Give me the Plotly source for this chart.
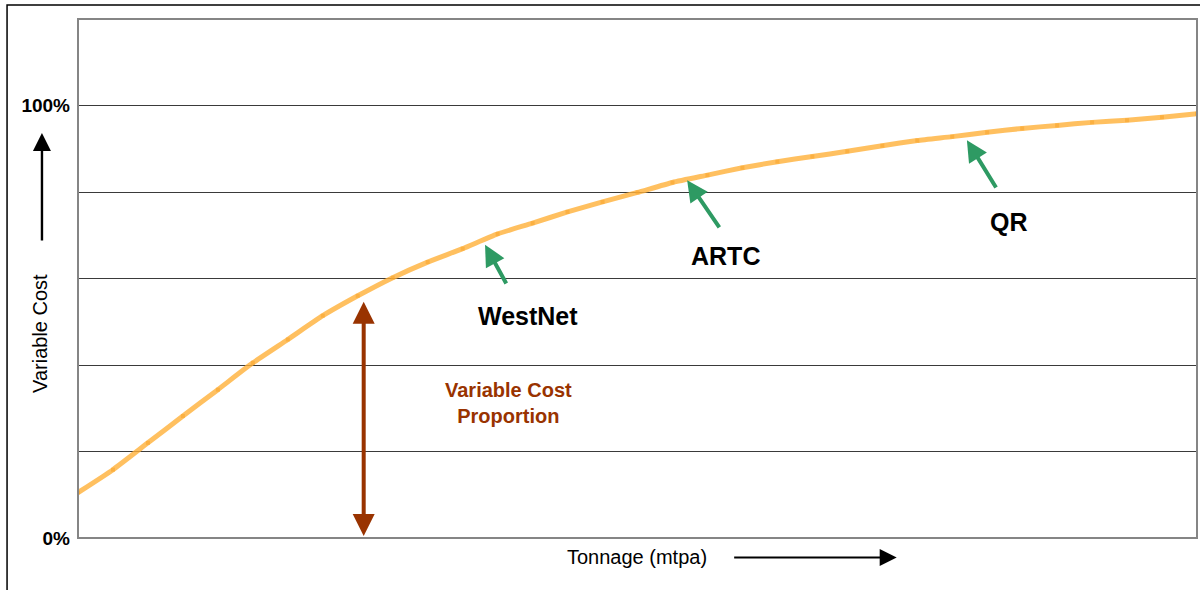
import plotly.graph_objects as go

# ---- data ----
tonnage = [0, 1, 2, 3, 4, 5, 6, 7, 8, 9, 10, 11, 12, 13, 14, 15, 16,
           17, 18, 19, 20, 21, 22, 23, 24, 25, 26, 27, 28, 29, 30, 31, 32]
variable_cost_pct = [10.5, 15.8, 22.0, 28.2, 34.3, 40.5, 45.9, 51.4, 56.0, 60.2,
                     63.8, 66.9, 70.3, 72.8, 75.4, 77.7, 79.9, 82.2, 83.9, 85.6,
                     87.0, 88.2, 89.4, 90.7, 91.9, 92.8, 93.8, 94.7, 95.4, 96.1,
                     96.6, 97.3, 98.1]
y_tick_vals = [0, 20, 40, 60, 80, 100]
y_tick_text = ["<b>0%</b>", "", "", "", "", "<b>100%</b>"]
railways = ["WestNet", "ARTC", "QR"]

FONT = "Liberation Sans, Arial, sans-serif"
GREEN = "#2E9A63"
BROWN = "#993300"

fig = go.Figure()
fig.add_trace(go.Scatter(
    x=tonnage, y=variable_cost_pct, mode="lines+markers",
    line=dict(color="rgba(255,176,56,0.8)", width=5, shape="spline", smoothing=0.5),
    marker=dict(symbol="square", size=4, color="rgba(248,165,45,0.6)"),
    hoverinfo="skip", showlegend=False,
))

annotations = []
# green arrows + labels (tip, tail, label positions in data units)
arrow_specs = [
    (railways[0], (11.64, 67.8), (12.27, 58.5), (12.86, 51.4)),
    (railways[1], (17.42, 82.7), (18.37, 71.5), (18.52, 65.1)),
    (railways[2], (25.42, 91.96), (26.28, 80.7), (26.62, 72.95)),
]
for name, tip, tail, lab in arrow_specs:
    annotations.append(dict(
        x=tip[0], y=tip[1], ax=tail[0], ay=tail[1], xref="x", yref="y",
        axref="x", ayref="y", text="", showarrow=True, arrowhead=2,
        arrowsize=1.05, arrowwidth=4, arrowcolor=GREEN, standoff=0,
    ))
    annotations.append(dict(
        x=lab[0], y=lab[1], xref="x", yref="y", text=f"<b>{name}</b>",
        xanchor="center", yanchor="middle",
        showarrow=False, font=dict(family=FONT, size=25, color="black"),
    ))

# brown double arrow
annotations.append(dict(
    x=8.17, y=54.6, ax=8.17, ay=0.1, xref="x", yref="y", axref="x", ayref="y",
    text="", showarrow=True, arrowhead=2, startarrowhead=2, arrowside="end+start",
    arrowsize=1.1, startarrowsize=1.1, arrowwidth=4, arrowcolor=BROWN,
))
annotations.append(dict(
    x=12.3, y=31.3, xref="x", yref="y", text="<b>Variable Cost<br>Proportion</b>",
    xanchor="center", yanchor="middle",
    showarrow=False, font=dict(family=FONT, size=20, color=BROWN),
))

# axis titles with arrows
annotations.append(dict(
    x=0.4993, y=-0.036, xref="paper", yref="paper", text="Tonnage (mtpa)",
    xanchor="center", yanchor="middle",
    showarrow=False, font=dict(family=FONT, size=20, color="black"),
))
annotations.append(dict(
    x=0.7316, y=-0.0378, xref="paper", yref="paper", text="", showarrow=True,
    ax=-164, ay=0, arrowhead=2, arrowsize=1.7, arrowwidth=2, arrowcolor="black",
))
annotations.append(dict(
    x=-0.034, y=0.395, xref="paper", yref="paper", text="Variable Cost",
    xanchor="center", yanchor="middle",
    textangle=-90, showarrow=False, font=dict(family=FONT, size=20, color="black"),
))
annotations.append(dict(
    x=-0.0322, y=0.7803, xref="paper", yref="paper", text="", showarrow=True,
    ax=0, ay=109, arrowhead=2, arrowsize=1.5, arrowwidth=2.4, arrowcolor="black",
))

shapes = [
    # outer frame
    dict(type="rect", xref="paper", yref="paper", x0=-0.0634, x1=1.05,
         y0=-0.3, y1=1.027, line=dict(color="black", width=1.5), layer="below"),
    # plot border
    dict(type="rect", xref="paper", yref="paper", x0=0, x1=1, y0=0, y1=1,
         line=dict(color="#858585", width=2), layer="above"),
]

fig.update_layout(
    width=1200, height=590,
    margin=dict(l=78, r=3, t=19, b=52),
    paper_bgcolor="white", plot_bgcolor="white",
    font=dict(family=FONT, color="black"),
    xaxis=dict(range=[0, 32], showgrid=False, showticklabels=False, zeroline=False,
               showline=False, ticks=""),
    yaxis=dict(range=[0, 120], tickvals=y_tick_vals, ticktext=y_tick_text,
               showgrid=True, gridcolor="#3a3a3a", gridwidth=1, zeroline=False,
               showline=False, ticks="", ticklabelstandoff=7,
               tickfont=dict(family=FONT, size=19, color="black")),
    annotations=annotations, shapes=shapes,
)

fig.write_html(
    "out.html",
    config={"displayModeBar": False},
    post_script="document.body.style.margin='0';document.body.style.overflow='hidden';",
)
